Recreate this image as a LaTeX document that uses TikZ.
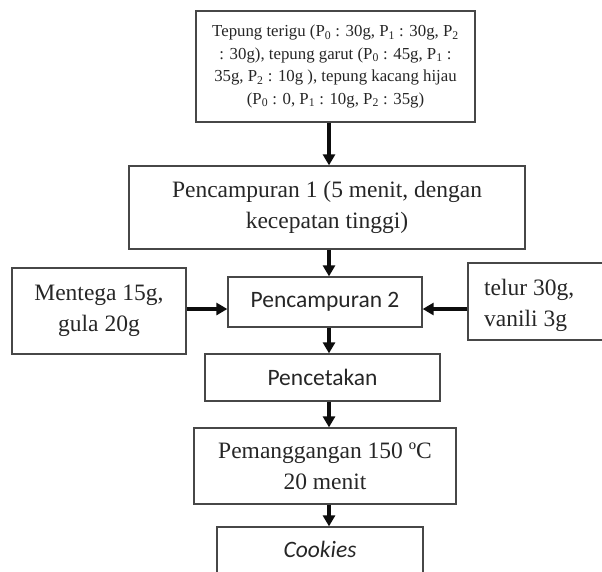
\documentclass[tikz,border=0pt]{standalone}
\usepackage{fontspec}
\setmainfont{Liberation Serif}
\newfontfamily\calfont{Carlito}
\usetikzlibrary{arrows.meta}
\begin{document}
\begin{tikzpicture}[x=1pt,y=-1pt,
  box/.style={draw=black!72, line width=1.3pt, inner sep=0pt, align=center, text=black!85},
  big/.style={font=\fontsize{23.5}{31}\selectfont},
  calbig/.style={font=\calfont\fontsize{23.5}{30}\selectfont},
  small/.style={font=\fontsize{16.8}{22.5}\selectfont},
  arr/.style={line width=3.2pt, draw=black!95, -{Triangle[length=11pt,width=12pt]}}]
\useasboundingbox (0,0) rectangle (602,571);
\clip (0,0) rectangle (602,571);
\coordinate (ax) at (329,0);
\coordinate (ay) at (0,309);
% boxes
\node[box, small, minimum width=279, minimum height=111] (top) at (335.5,66.5)
  {Tepung terigu (P\textsubscript{0} : 30g, P\textsubscript{1} : 30g, P\textsubscript{2}\\
   : 30g), tepung garut (P\textsubscript{0} : 45g, P\textsubscript{1} :\\
   35g, P\textsubscript{2} : 10g ), tepung kacang hijau\\
   (P\textsubscript{0} : 0, P\textsubscript{1} : 10g, P\textsubscript{2} : 35g)};
\node[box, big, minimum width=396, minimum height=83] (p1) at (327,207.5)
  {Pencampuran 1 (5 menit, dengan\\kecepatan tinggi)};
\node[box, big, minimum width=174, minimum height=86] (ment) at (99,311)
  {Mentega 15g,\\gula 20g};
\node[box, calbig, minimum width=194, minimum height=50] (p2) at (325,302)
  {Pencampuran 2};
\node[box, minimum width=160, minimum height=77] (telur) at (548,301.5) {};
\node[big, anchor=west, align=left, inner sep=0pt, text=black!85] (telurtxt) at (484,305.5)
  {telur 30g,\\vanili 3g};
\node[box, calbig, minimum width=235, minimum height=47] (cetak) at (322.5,377.5)
  {Pencetakan};
\node[box, big, minimum width=262, minimum height=76] (panggang) at (325,466)
  {Pemanggangan 150 ºC\\20 menit};
\node[box, minimum width=206, minimum height=70] (ck) at (320,562) {};
\node[calbig, inner sep=0pt, text=black!85] (cktxt) at (320,549) {\itshape Cookies};
% arrows
\draw[arr] (top.south -| ax) -- (p1.north -| ax);
\draw[arr] (p1.south -| ax) -- (p2.north -| ax);
\draw[arr] (ment.east |- ay) -- (p2.west |- ay);
\draw[arr] (telur.west |- ay) -- (p2.east |- ay);
\draw[arr] (p2.south -| ax) -- (cetak.north -| ax);
\draw[arr] (cetak.south -| ax) -- (panggang.north -| ax);
\draw[arr] (panggang.south -| ax) -- (ck.north -| ax);
\end{tikzpicture}
\end{document}
